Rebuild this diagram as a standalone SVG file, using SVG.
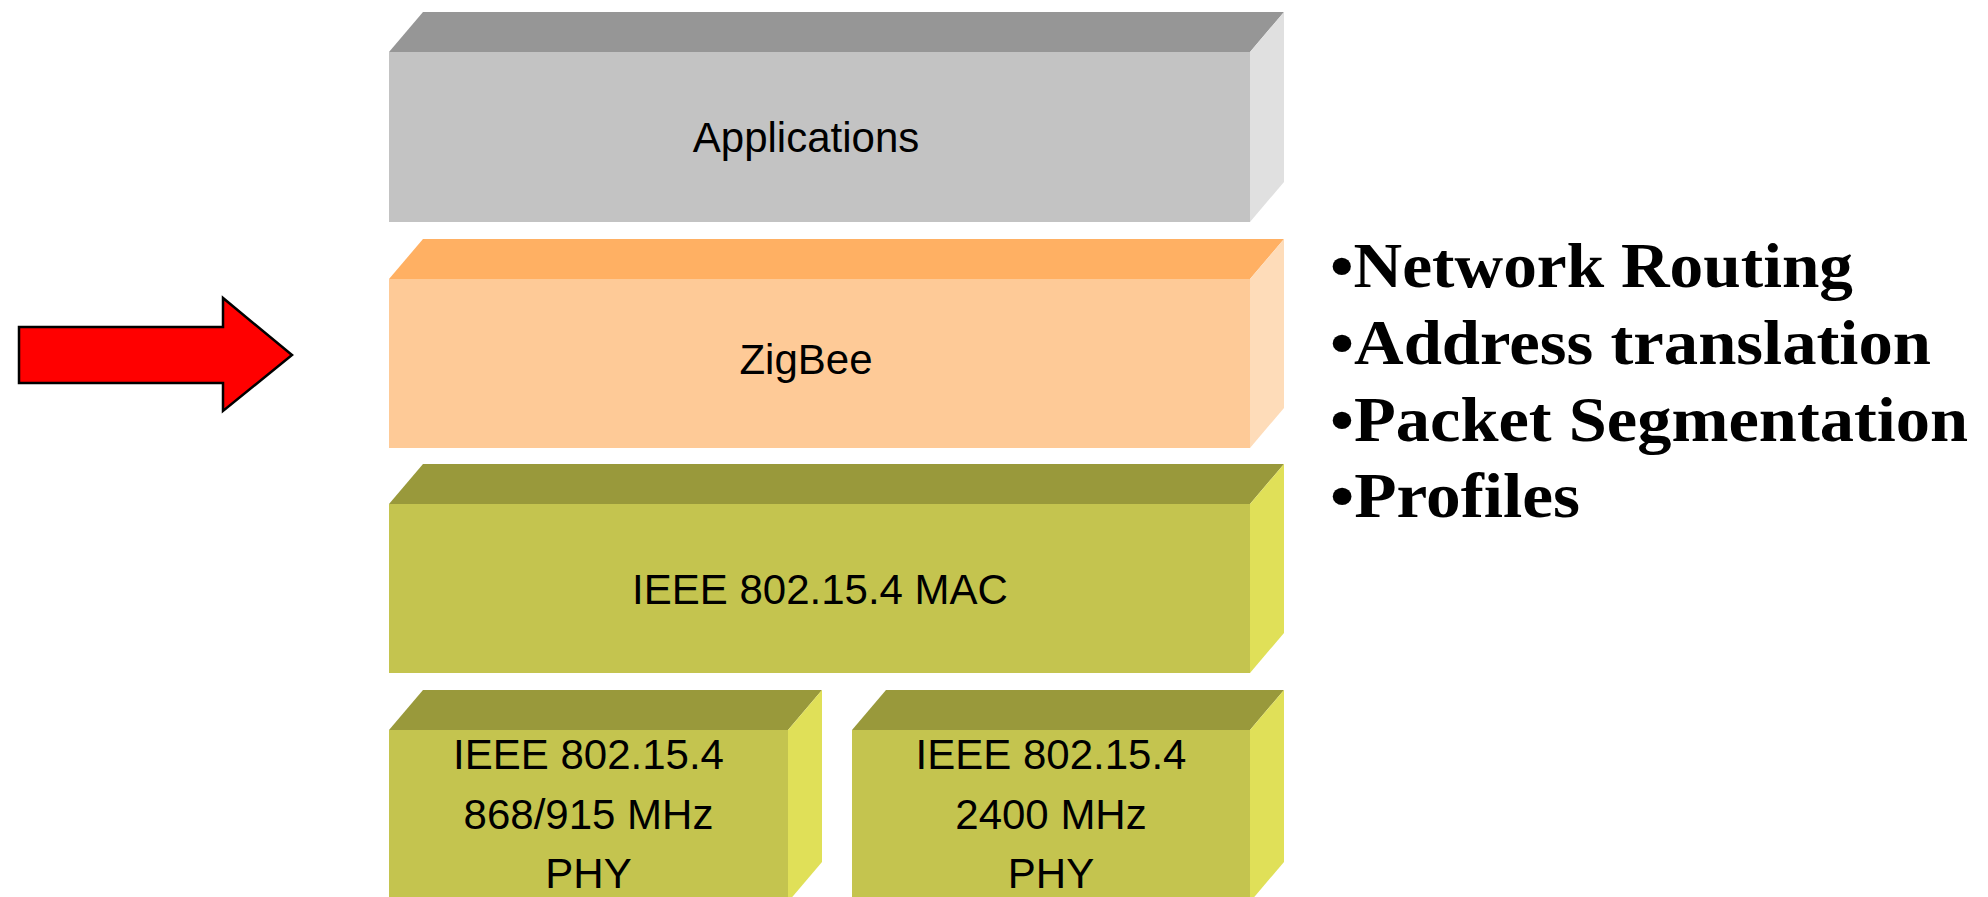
<svg xmlns="http://www.w3.org/2000/svg" width="1988" height="897" viewBox="0 0 1988 897">
<style>
.lbl{font-family:"Liberation Sans",Arial,sans-serif;font-size:42px;fill:#000;text-anchor:middle}
.bul{font-family:"Liberation Serif","Times New Roman",serif;font-size:64px;font-weight:bold;fill:#000}
.gf{fill:#C3C3C3}.gt{fill:#969696}.gs{fill:#E0E0E0}
.of{fill:#FECA97}.ot{fill:#FFB063}.os{fill:#FEDCB9}
.yf{fill:#C4C44F}.yt{fill:#99993B}.ys{fill:#E0E058}
</style>
<rect width="1988" height="897" fill="#fff"/>
<g id="arrow">
<polygon points="19,327 223,327 223,298 292,355 223,411 223,383 19,383" fill="#FF0000" stroke="#000" stroke-width="2.5" stroke-linejoin="miter"/>
</g>
<g id="applications">
<polygon class="gt" points="389,52 423,12 1284,12 1250,52"/>
<polygon class="gs" points="1250,52 1284,12 1284,182 1250,222"/>
<rect class="gf" x="389" y="52" width="861" height="170"/>
<text class="lbl" x="806" y="152">Applications</text>
</g>
<g id="zigbee">
<polygon class="ot" points="389,279 423,239 1284,239 1250,279"/>
<polygon class="os" points="1250,279 1284,239 1284,408 1250,448"/>
<rect class="of" x="389" y="279" width="861" height="169"/>
<text class="lbl" x="806" y="374">ZigBee</text>
</g>
<g id="mac">
<polygon class="yt" points="389,504 423,464 1284,464 1250,504"/>
<polygon class="ys" points="1250,504 1284,464 1284,633 1250,673"/>
<rect class="yf" x="389" y="504" width="861" height="169"/>
<text class="lbl" x="820" y="604">IEEE 802.15.4 MAC</text>
</g>
<g id="phy868">
<polygon class="yt" points="389,730 423,690 822,690 788,730"/>
<polygon class="ys" points="788,730 822,690 822,862 788,902"/>
<rect class="yf" x="389" y="730" width="399" height="172"/>
<text class="lbl" x="588.5" y="769">IEEE 802.15.4</text>
<text class="lbl" x="588.5" y="829">868/915 MHz</text>
<text class="lbl" x="588.5" y="888">PHY</text>
</g>
<g id="phy2400">
<polygon class="yt" points="852,730 886,690 1284,690 1250,730"/>
<polygon class="ys" points="1250,730 1284,690 1284,862 1250,902"/>
<rect class="yf" x="852" y="730" width="398" height="172"/>
<text class="lbl" x="1051" y="769">IEEE 802.15.4</text>
<text class="lbl" x="1051" y="829">2400 MHz</text>
<text class="lbl" x="1051" y="888">PHY</text>
</g>
<g id="features">
<text class="bul" x="1330" y="287" textLength="523" lengthAdjust="spacingAndGlyphs">•Network Routing</text>
<text class="bul" x="1330" y="364" textLength="601" lengthAdjust="spacingAndGlyphs">•Address translation</text>
<text class="bul" x="1330" y="441" textLength="638" lengthAdjust="spacingAndGlyphs">•Packet Segmentation</text>
<text class="bul" x="1330" y="517" textLength="250" lengthAdjust="spacingAndGlyphs">•Profiles</text>
</g>
<g id="connectors"/>
</svg>
